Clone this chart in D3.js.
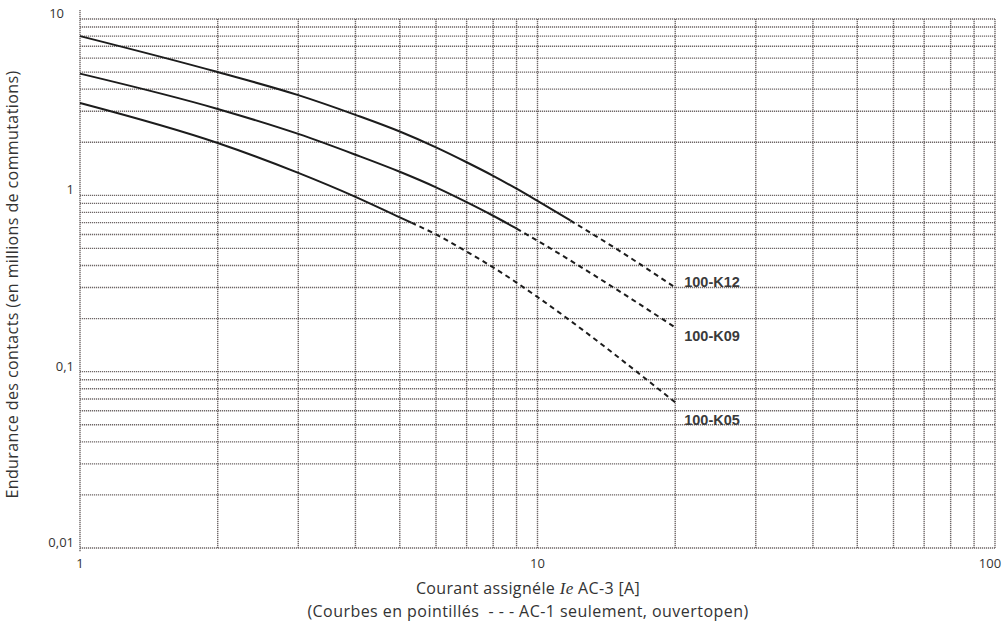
<!DOCTYPE html>
<html>
<head>
<meta charset="utf-8">
<script src="https://cdn.jsdelivr.net/npm/d3@7"></script>
<style>
  html, body { margin: 0; padding: 0; background: #fff; }
  svg { display: block; }
  text { white-space: pre; }
</style>
</head>
<body>
<svg id="chart" width="1007" height="623"></svg>
<script>
// ---- data ----
const xTicks = [1, 10, 100];
const xTickLabels = ["1", "10", "100"];
const yTicks = [10, 1, 0.1, 0.01];
const yTickLabels = ["10", "1", "0,1", "0,01"];

const seriesNames = ["100-K12", "100-K09", "100-K05"];
// solid part (AC-3)
const k12Solid = [[1, 8.0], [2, 5.0], [3, 3.7], [4, 2.86], [5, 2.30], [6, 1.87], [7, 1.54], [8, 1.29], [9, 1.09], [10, 0.93], [11.8, 0.72]];
const k09Solid = [[1, 4.9], [2, 3.09], [3, 2.23], [4, 1.70], [5, 1.36], [6, 1.11], [7, 0.915], [8, 0.766], [9, 0.648]];
const k05Solid = [[1, 3.34], [2, 1.98], [3, 1.34], [4, 0.98], [5, 0.75], [5.3, 0.70]];
// dashed part (AC-1 only)
const k12Dashed = [[11.8, 0.72], [15, 0.49], [20, 0.30]];
const k09Dashed = [[9, 0.648], [10, 0.553], [15, 0.289], [20, 0.178]];
const k05Dashed = [[5.3, 0.70], [6, 0.60], [7, 0.48], [8, 0.39], [9, 0.32], [10, 0.265], [20, 0.067]];

const yTitle = "Endurance des contacts (en millions de commutations)";
const xTitleA = "Courant assignéle ";
const xTitleIe = "Ie";
const xTitleB = " AC-3 [A]";
const xSubtitle = "(Courbes en pointillés  - - - AC-1 seulement, ouvertopen)";

// ---- drawing ----
const svg = d3.select("#chart");
const x = d3.scaleLog().domain([1, 100]).range([80, 995]);
const y = d3.scaleLog().domain([0.01, 10]).range([548, 19]);

const gridColor = "#6e6666";
const grid = svg.append("g");

// vertical grid lines: 1..10, 20..100
const xGrid = [];
for (let d = 1; d < 100; d *= 10) for (let k = 1; k < 10; k++) xGrid.push(k * d);
xGrid.push(100);
grid.selectAll("line.v").data(xGrid).join("line")
  .attr("x1", d => x(d)).attr("x2", d => x(d))
  .attr("y1", d => d === 1 ? 10 : y(10))
  .attr("y2", d => d === 1 ? 552 : y(0.01))
  .attr("stroke", gridColor).attr("stroke-width", 1.4)
  .attr("stroke-dasharray", "1.2,0.8");

// horizontal grid lines
const yGrid = [];
for (let d = 0.01; d < 10; d *= 10) for (let k = 1; k < 10; k++) yGrid.push(+(k * d).toPrecision(3));
yGrid.push(10);
grid.selectAll("line.h").data(yGrid).join("line")
  .attr("x1", x(1)).attr("x2", x(100))
  .attr("y1", d => y(d)).attr("y2", d => y(d))
  .attr("stroke", gridColor).attr("stroke-width", 1.4)
  .attr("stroke-dasharray", "1.2,0.8");

// tick labels
svg.append("g").selectAll("text").data(xTicks).join("text")
  .attr("x", (d, i) => x(d) - (i === xTicks.length - 1 ? 5 : 0))
  .attr("y", y(0.01) + 20)
  .attr("text-anchor", "middle")
  .attr("font-family", "'Open Sans', sans-serif")
  .attr("font-size", 13).attr("fill", "#333")
  .text((d, i) => xTickLabels[i]);

svg.append("g").selectAll("text").data(yTicks).join("text")
  .attr("x", (d, i) => i === 0 ? 64 : 74)
  .attr("y", d => y(d) - 1)
  .attr("text-anchor", "end")
  .attr("font-family", "'Open Sans', sans-serif")
  .attr("font-size", 13).attr("fill", "#333")
  .text((d, i) => yTickLabels[i]);

// curves
const line = d3.line().x(d => x(d[0])).y(d => y(d[1])).curve(d3.curveMonotoneX);
const solids = [k12Solid, k09Solid, k05Solid];
const dashes = [k12Dashed, k09Dashed, k05Dashed];
svg.append("g").selectAll("path").data(solids).join("path")
  .attr("d", line).attr("fill", "none")
  .attr("stroke", "#1c1c1c").attr("stroke-width", 2);
svg.append("g").selectAll("path").data(dashes).join("path")
  .attr("d", line).attr("fill", "none")
  .attr("stroke", "#1c1c1c").attr("stroke-width", 2)
  .attr("stroke-dasharray", "5,4");

// curve labels near the end of dashed lines
const labelDy = [-1, 13, 23];
svg.append("g").selectAll("text").data(dashes).join("text")
  .attr("x", d => x(d[d.length - 1][0]) + 9)
  .attr("y", (d, i) => y(d[d.length - 1][1]) + labelDy[i])
  .attr("font-family", "'Liberation Sans', Arial, sans-serif")
  .attr("font-size", 14.5).attr("font-weight", "bold")
  .attr("fill", "#3a3a3a")
  .text((d, i) => seriesNames[i]);

// axis titles
svg.append("text")
  .attr("transform", "translate(18," + ((72 + 497) / 2) + ") rotate(-90)")
  .attr("text-anchor", "middle")
  .attr("font-family", "'Open Sans', sans-serif")
  .attr("font-size", 16).attr("letter-spacing", 0.4).attr("fill", "#333")
  .text(yTitle);

const xt = svg.append("text")
  .attr("x", 528).attr("y", 594)
  .attr("text-anchor", "middle")
  .attr("font-family", "'Open Sans', sans-serif")
  .attr("font-size", 16).attr("letter-spacing", 0.35).attr("fill", "#333");
xt.append("tspan").text(xTitleA);
xt.append("tspan").attr("font-family", "'Liberation Serif', serif").attr("font-style", "italic").attr("font-size", 17).text(xTitleIe);
xt.append("tspan").text(xTitleB);

svg.append("text")
  .attr("x", 528).attr("y", 617)
  .attr("text-anchor", "middle")
  .attr("font-family", "'Open Sans', sans-serif")
  .attr("font-size", 16).attr("letter-spacing", 0.45).attr("fill", "#333")
  .text(xSubtitle);
</script>
</body>
</html>
